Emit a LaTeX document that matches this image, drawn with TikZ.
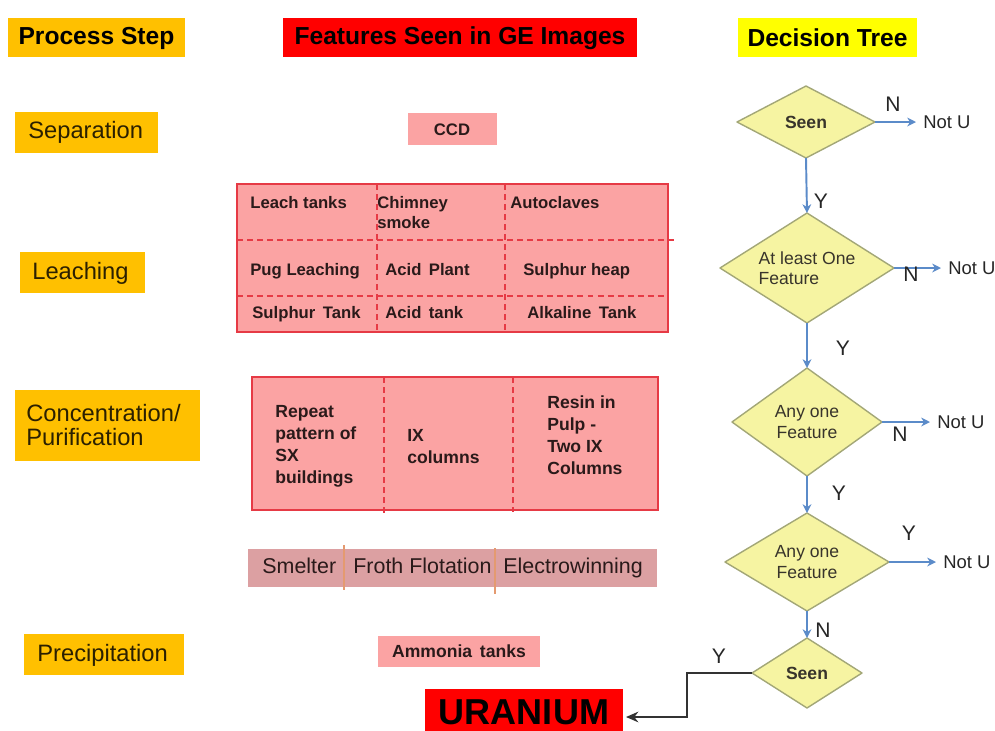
\documentclass[tikz,border=0pt]{standalone}
\usepackage{fontspec}
\setmainfont{Liberation Sans}
\usetikzlibrary{arrows.meta}
\definecolor{orangebox}{HTML}{FFC000}
\definecolor{redbox}{HTML}{FF0000}
\definecolor{yelbox}{HTML}{FFFF00}
\definecolor{pinkfill}{HTML}{FBA3A3}
\definecolor{pinkline}{HTML}{E63A45}
\definecolor{rosefill}{HTML}{DCA0A2}
\definecolor{divline}{HTML}{E49A70}
\definecolor{dfill}{HTML}{F6F4A2}
\definecolor{dline}{HTML}{A3A777}
\definecolor{arrowblue}{HTML}{5B8BC9}
\definecolor{txt}{HTML}{2A1A1A}
\definecolor{steptext}{HTML}{2B2000}
\newcommand\mydia[7][]{%
  \draw[dia] ({#3-#5},#4) coordinate (#2w) -- (#3,{#4-#6}) coordinate (#2n)
    -- ({#3+#5},#4) coordinate (#2e) -- (#3,{#4+#6}) coordinate (#2s) -- cycle;
  \node[dtext,#1] (#2) at (#3,#4) {#7};}
\begin{document}
\begin{tikzpicture}[x=0.02cm,y=-0.02cm,
  hdr/.style={font=\fontsize{14}{16}\selectfont\bfseries, text=black, inner sep=0},
  steptxt/.style={font=\fontsize{13.5}{14.2}\selectfont, text=steptext, inner sep=0, anchor=west, align=left},
  cellm/.style={font=\fontsize{9.5}{11.3}\selectfont\bfseries, text=txt, inner sep=0, anchor=west, align=left},
  cell/.style={font=\fontsize{9.5}{11.3}\selectfont\bfseries, text=txt, inner sep=0, anchor=west, text height=1.55ex, text depth=0.3ex},
  ccell/.style={font=\fontsize{10}{12.5}\selectfont\bfseries, text=txt, inner sep=0, anchor=west, align=left},
  rcell/.style={font=\fontsize{12.2}{14}\selectfont, text=txt, inner sep=0, anchor=west, text height=1.55ex, text depth=0.3ex},
  tbl/.style={draw=pinkline, line width=1.1pt, fill=pinkfill},
  dsh/.style={draw=pinkline, line width=0.85pt, dash pattern=on 3.4pt off 2.3pt},
  dia/.style={draw=dline, line width=0.8pt, fill=dfill, line join=round},
  dtext/.style={font=\fontsize{10}{11.5}\selectfont, text=black!80!olive, inner sep=0, align=center},
  nut/.style={font=\fontsize{10.5}{12}\selectfont, text=black!85, inner xsep=4pt, inner ysep=0, anchor=west},
  yn/.style={font=\fontsize{12}{14}\selectfont, text=black!85, inner sep=0},
  barrow/.style={draw=arrowblue, line width=1.1pt, -{Stealth[length=5pt,width=5pt]}},
  karrow/.style={draw=black!80, line width=1.5pt, -{Stealth[length=7pt,width=6pt]}}]
\useasboundingbox (0,0) rectangle (995,731);

% headers
\fill[orangebox] (8,18) rectangle (185,57);
\node[hdr] (hps) at (96.5,38) {Process Step};
\fill[redbox] (283,18) rectangle (637,57);
\node[hdr] (hfe) at (460,38) {Features Seen in GE Images};
\fill[yelbox] (738,18) rectangle (917,57);
\node[hdr] (hdt) at (827.5,38) {Decision Tree};

% process steps
\fill[orangebox] (15,112) rectangle (158,153);
\node[steptxt] (sep) at (28,132) {Separation};
\fill[orangebox] (20,252) rectangle (145,293);
\node[steptxt] (lea) at (32,273) {Leaching};
\fill[orangebox] (15,390) rectangle (200,461);
\node[steptxt] (con) at (26,425) {Concentration/\\Purification};
\fill[orangebox] (24,634) rectangle (184,675);
\node[steptxt] (pre) at (37,655) {Precipitation};

% CCD
\fill[pinkfill] (408,113) rectangle (497,145);
\node[cell, anchor=center] (ccd) at (452,130) {CCD};

% leaching table
\path[tbl] (237,184) rectangle (668,332);
\draw[dsh] (237,240) -- (675,240);
\draw[dsh] (237,296) -- (668,296);
\draw[dsh] (377,184) -- (377,332);
\draw[dsh] (505,184) -- (505,332);
\node[cell] (lt) at (250,203) {Leach tanks};
\node[cellm, anchor=north west] (cs) at (377,196) {Chimney\\smoke};
\node[cell] (ac) at (510,203) {Autoclaves};
\node[cell] (pl) at (250,270) {Pug Leaching};
\node[cell] (ap) at (385,270) {Acid\, Plant};
\node[cell] (sh) at (523,270) {Sulphur heap};
\node[cell] (st) at (252,313) {Sulphur\, Tank};
\node[cell] (at) at (385,313) {Acid\, tank};
\node[cell] (alk) at (527,313) {Alkaline\, Tank};

% concentration table
\path[tbl] (252,377) rectangle (658,510);
\draw[dsh] (384,377) -- (384,515);
\draw[dsh] (513,377) -- (513,512);
\node[ccell] (sx) at (275,446) {Repeat\\pattern of\\SX\\buildings};
\node[ccell] (ix) at (407,447) {IX\\columns};
\node[ccell] (rip) at (547,435) {Resin in\\Pulp -\\Two IX\\Columns};

% smelter row
\fill[rosefill] (248,549) rectangle (657,587);
\draw[divline, line width=1.2pt] (344,545) -- (344,590);
\draw[divline, line width=1.2pt] (495,548) -- (495,594);
\node[rcell] (sm) at (262,568) {Smelter};
\node[rcell] (ff) at (353,568) {Froth Flotation};
\node[rcell] (ew) at (503,568) {Electrowinning};

% ammonia
\fill[pinkfill] (378,636) rectangle (540,667);
\node[cell, anchor=center, font=\fontsize{10}{12}\selectfont\bfseries] (am) at (459,652) {Ammonia\, tanks};

% uranium
\fill[redbox] (425,689) rectangle (623,740);
\coordinate (urE) at (626,717);
\node[font=\fontsize{20.5}{22}\selectfont\bfseries, text=black, inner sep=0] (ur) at (524,712) {URANIUM};

% decision tree
\mydia{d1}{806}{122}{69}{36}{\textbf{Seen}}
\mydia[align=left]{d2}{807}{268}{87}{55}{At least One\\Feature}
\mydia{d3}{807}{422}{75}{54}{Any one\\Feature}
\mydia{d4}{807}{562}{82}{49}{Any one\\Feature}
\mydia{d5}{807}{673}{55}{35}{\textbf{Seen}}

\node[nut] (nu1) at (916,122) {Not U};
\node[nut] (nu2) at (941,268) {Not U};
\node[nut] (nu3) at (930,422) {Not U};
\node[nut] (nu4) at (936,562) {Not U};

\draw[barrow] (d1e) -- (nu1.west);
\draw[barrow] (d2e) -- (nu2.west);
\draw[barrow] (d3e) -- (nu3.west);
\draw[barrow] (d4e) -- (nu4.west);
\draw[barrow] (d1s) -- (d2n);
\draw[barrow] (d2s) -- (d3n);
\draw[barrow] (d3s) -- (d4n);
\draw[barrow] (d4s) -- (d5n);

\node[yn] (n1) at (893,104) {N};
\node[yn] (y1) at (821,201) {Y};
\node[yn] (n2) at (911,274) {N};
\node[yn] (y2) at (843,348) {Y};
\node[yn] (n3) at (900,434) {N};
\node[yn] (y3) at (839,493) {Y};
\node[yn] (y4) at (909,533) {Y};
\node[yn] (n4) at (823,630) {N};
\node[yn] (y5) at (719,656) {Y};

\coordinate (bend) at (687,673);
\draw[karrow] (d5w) -- (bend) |- (urE);
\end{tikzpicture}
\end{document}
